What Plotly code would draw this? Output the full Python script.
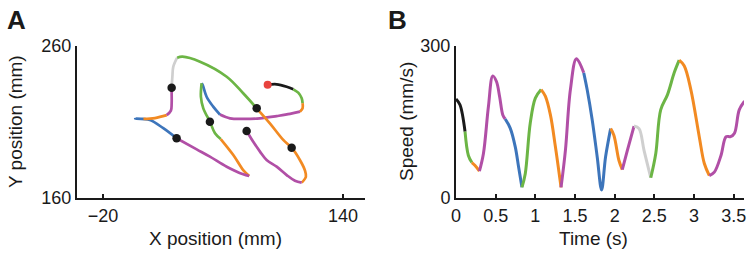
import plotly.graph_objects as go

# ---------------- data ----------------
seg_colors = ["black", "green", "orange", "magenta", "blue", "green", "orange", "magenta",
              "blue", "orange", "magenta", "gray", "green", "orange", "magenta"]

# Panel A: hand trajectory (mm)
traj_x = [89.8, 95.8, 102.5, 106.9, 110.2, 112.5, 113.1, 113.1, 111.3, 104.7, 95.8, 84.7, 73.5, 64.7,
          58.0, 53.5, 49.1, 46.5, 45.8, 45.3, 46.9, 51.3, 54.7, 58.5, 66.9, 73.5, 77.5, 73.5, 62.5,
          51.3, 42.5, 29.1, 20.2, 11.3, 1.5, 7.0, 14.7, 22.5, 25.3, 25.8, 25.8, 25.8, 26.3, 26.9,
          29.5, 33.0, 44.7, 62.5, 73.5, 82.5, 91.3, 100.2, 105.8, 111.3, 114.7, 115.3, 112.5, 108.0,
          102.5, 95.8, 89.1, 84.7, 80.2, 75.8]
traj_y = [234.5, 234.8, 233.2, 231.5, 229.3, 225.6, 222.3, 219.0, 216.8, 215.3, 213.9, 212.4, 212.0,
          212.4, 214.9, 220.1, 226.6, 234.3, 235.5, 226.6, 219.0, 210.2, 202.6, 198.8, 188.3, 178.4,
          174.5, 175.6, 180.6, 187.2, 192.0, 199.3, 205.9, 211.3, 212.3, 212.0, 212.6, 214.5, 217.5,
          222.0, 228.9, 232.6, 240.0, 246.4, 252.3, 253.0, 249.7, 239.8, 228.9, 219.0, 209.1, 198.2,
          193.1, 185.0, 178.0, 174.0, 170.1, 171.4, 175.1, 180.6, 185.0, 190.5, 197.0, 204.1]
traj_breaks = [0, 3, 6, 8, 14, 18, 23, 26, 31, 35, 37, 41, 44, 49, 56, 63]

dot_x = [25.8, 82.5, 51.3, 75.8, 29.1, 105.8]
dot_y = [232.6, 219.0, 210.2, 204.1, 199.3, 193.1]
start_x = [89.8]
start_y = [234.5]

# Panel B: speed profile
speed_t = [0.0, 0.05, 0.114, 0.156, 0.2, 0.24, 0.295, 0.346, 0.409, 0.464, 0.51, 0.55, 0.59, 0.62,
           0.683, 0.747, 0.789, 0.831, 0.873, 0.936, 1.0, 1.073, 1.126, 1.19, 1.253, 1.324, 1.379,
           1.442, 1.518, 1.61, 1.653, 1.717, 1.78, 1.835, 1.885, 1.949, 1.99, 2.054, 2.096, 2.16,
           2.244, 2.307, 2.37, 2.455, 2.518, 2.58, 2.666, 2.75, 2.813, 2.876, 2.96, 3.066, 3.13,
           3.193, 3.256, 3.34, 3.404, 3.46, 3.51, 3.57, 3.636]
speed_v = [195.6, 184, 131, 84, 70, 64, 53, 88, 181, 241, 230, 200, 164, 156, 138, 101, 61, 21, 48,
           148, 197, 214, 201, 164, 101, 21, 94, 214, 275, 247, 214, 154, 81, 16, 81, 137, 124, 74,
           56, 94, 142, 137, 94, 40, 88, 174, 204, 247, 272, 261, 214, 121, 68, 44, 51, 84, 121,
           121, 128, 174, 191]
speed_breaks = [0, 2, 4, 6, 13, 17, 21, 25, 29, 35, 38, 40, 43, 48, 53, 60]

xticks_a = [-20, 140]
yticks_a = [160, 260]
xticks_b = [0, 0.5, 1, 1.5, 2, 2.5, 3, 3.5]
xticklabels_b = ["0", "0.5", "1", "1.5", "2", "2.5", "3", "3.5"]
yticks_b = [0, 300]

# ---------------- style ----------------
palette = {"black": "#1a1a1a", "green": "#6cb545", "orange": "#f28a22", "magenta": "#b14fa6",
           "blue": "#3d75bb", "gray": "#cfcfcf"}
FONT = "Liberation Sans, Arial, sans-serif"
W, H = 750, 258


def fx(px):
    return px / W


def fy(py):
    return 1 - py / H


fig = go.Figure()

for i, c in enumerate(seg_colors):
    a, b = traj_breaks[i], traj_breaks[i + 1]
    fig.add_trace(go.Scatter(x=traj_x[a:b + 1], y=traj_y[a:b + 1], mode="lines",
                             line=dict(color=palette[c], width=2.7, shape="spline", smoothing=1.0),
                             xaxis="x", yaxis="y", hoverinfo="skip", showlegend=False))
fig.add_trace(go.Scatter(x=dot_x, y=dot_y, mode="markers",
                         marker=dict(color="#1a1a1a", size=8.5), xaxis="x", yaxis="y",
                         showlegend=False))
fig.add_trace(go.Scatter(x=start_x, y=start_y, mode="markers",
                         marker=dict(color="#e8433e", size=8), xaxis="x", yaxis="y",
                         showlegend=False))

for i, c in enumerate(seg_colors):
    a, b = speed_breaks[i], speed_breaks[i + 1]
    fig.add_trace(go.Scatter(x=speed_t[a:b + 1], y=speed_v[a:b + 1], mode="lines",
                             line=dict(color=palette[c], width=3, shape="spline", smoothing=1.0),
                             xaxis="x2", yaxis="y2", hoverinfo="skip", showlegend=False))

ax_common = dict(showgrid=False, zeroline=False, showline=True, linecolor="#1a1a1a", linewidth=2,
                 ticks="inside", ticklen=4, tickwidth=1.5, tickcolor="#1a1a1a", automargin=False,
                 tickfont=dict(family=FONT, size=18, color="#1a1a1a"))

ydom = [fy(198), fy(46)]
fig.update_layout(
    width=W, height=H, margin=dict(l=0, r=0, t=0, b=0),
    paper_bgcolor="white", plot_bgcolor="white",
    xaxis=dict(domain=[fx(77), fx(365)], range=[-37.3, 154.7], tickvals=xticks_a,
               ticktext=["\u221220", "140"], anchor="y", **ax_common),
    yaxis=dict(domain=ydom, range=[160, 260], tickvals=yticks_a, anchor="x", **ax_common),
    xaxis2=dict(domain=[fx(456), fx(744)], range=[0, 3.63], tickvals=xticks_b,
                ticktext=xticklabels_b, anchor="y2", **ax_common),
    yaxis2=dict(domain=ydom, range=[0, 300], tickvals=yticks_b, anchor="x2", **ax_common),
)


def ann(text, x, y, size=19, angle=0, weight="normal"):
    fig.add_annotation(text=text, x=fx(x), y=fy(y),
                       xref="paper", yref="paper", showarrow=False, textangle=angle,
                       xanchor="center", yanchor="middle",
                       font=dict(family=FONT, size=size, color="#1a1a1a", weight=weight))


ann("X position (mm)", 216, 238)
ann("Y position (mm)", 16, 122, angle=-90)
ann("Time (s)", 593, 238)
ann("Speed (mm/s)", 407, 122, angle=-90)
ann("A", 16, 20, size=26, weight="bold")
ann("B", 397, 20, size=26, weight="bold")

fig.write_html("out.html", config={"displayModeBar": False},
               post_script="document.body.style.margin='0';document.body.style.padding='0';")
